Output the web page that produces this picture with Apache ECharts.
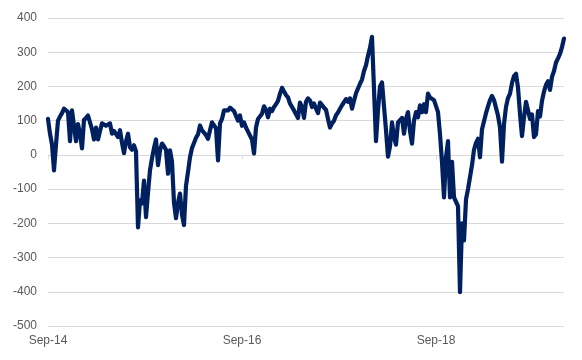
<!DOCTYPE html>
<html>
<head>
<meta charset="utf-8">
<script src="https://cdn.jsdelivr.net/npm/echarts@6/dist/echarts.min.js"></script>
<style>
html,body{margin:0;padding:0;background:#fff;}
#chart{width:582px;height:360px;}
</style>
</head>
<body>
<div id="chart"></div>
<script>
// Series values (roughly weekly, Sep-2014 .. Dec-2019)
const values = [
105,62,30,-45,30,100,112,122,135,136,125,40,130,130,40,90,62,19,102,108,
115,120,75,45,80,45,70,92,90,85,86,92,62,70,65,52,72,35,5,40,
62,22,15,28,10,-212,-133,-142,-75,-182,-110,-45,-10,20,45,-30,13,33,25,15,
-55,13,-20,-140,-185,-140,-113,-175,-205,-90,-50,-7,20,35,50,60,86,72,65,58,
47,72,95,100,78,-16,92,105,130,134,130,138,134,128,124,100,115,85,95,80,
68,72,45,4,80,105,100,120,142,132,110,135,128,140,148,158,179,196,200,175,
168,150,150,130,125,108,153,140,108,155,165,159,140,150,135,122,153,157,138,132,
105,80,92,100,116,124,135,145,150,163,155,165,135,158,180,184,208,220,245,262,
290,313,345,340,40,130,200,212,217,72,-5,25,95,52,30,95,100,108,62,105,
125,70,33,100,125,110,145,125,148,125,179,168,170,160,165,125,60,-20,-124,-7,
40,-124,-20,-124,-124,-150,-401,-200,-250,-130,-100,-65,-30,15,35,47,-7,75,72,122,
142,160,172,160,155,115,80,-20,90,140,166,179,210,230,237,197,120,55,110,155,
160,105,118,52,60,128,112,158,185,205,215,190,228,245,270,282,295,315,340
];
// Tick labels on the category axis and where they sit
const xTickLabels = ['Sep-14', 'Sep-16', 'Sep-18'];
const xTickIndex = [0, 97, 194];
// y-axis ticks
const yMin = -500, yMax = 400, yStep = 100;

// Categories: one per observation, dated from mid Sep-2014
const months = ['Jan','Feb','Mar','Apr','May','Jun','Jul','Aug','Sep','Oct','Nov','Dec'];
const categories = values.map((v, i) => {
  const d = new Date(2014, 8, 15 + Math.round(i * 7.53));
  return months[d.getMonth()] + '-' + String(d.getFullYear()).slice(2);
});

const chart = echarts.init(document.getElementById('chart'), null, {renderer: 'canvas'});
const font = 'Liberation Sans, Arial, sans-serif';
chart.setOption({
  animation: false,
  backgroundColor: '#ffffff',
  grid: {left: 48, right: 18, top: 18, bottom: 34, containLabel: false},
  xAxis: [{
    type: 'category',
    data: categories,
    boundaryGap: false,
    position: 'bottom',
    axisLine: {show: false, onZero: false},
    axisTick: {show: false},
    splitLine: {show: false},
    axisLabel: {
      show: true,
      interval: (i) => xTickIndex.includes(i),
      formatter: (v, i) => xTickLabels[xTickIndex.indexOf(i)] || '',
      color: '#595959',
      fontSize: 12,
      fontFamily: font,
      margin: 9
    }
  }, {
    type: 'category',
    data: categories,
    boundaryGap: false,
    position: 'bottom',
    axisLine: {show: false, onZero: true},
    axisTick: {show: true, interval: (i) => xTickIndex.includes(i), length: 4, lineStyle: {color: '#d9d9d9'}},
    axisLabel: {show: false},
    splitLine: {show: false}
  }],
  yAxis: {
    type: 'value',
    min: yMin,
    max: yMax,
    interval: yStep,
    axisLine: {show: false},
    axisTick: {show: false},
    splitLine: {show: true, lineStyle: {color: '#d9d9d9', width: 1}},
    axisLabel: {color: '#595959', fontSize: 12, fontFamily: font, margin: 11}
  },
  series: [{
    type: 'line',
    data: values,
    xAxisIndex: 0,
    showSymbol: false,
    symbol: 'none',
    lineStyle: {color: '#002060', width: 4.2, join: 'round', cap: 'round'},
    z: 3
  }]
});
</script>
</body>
</html>
